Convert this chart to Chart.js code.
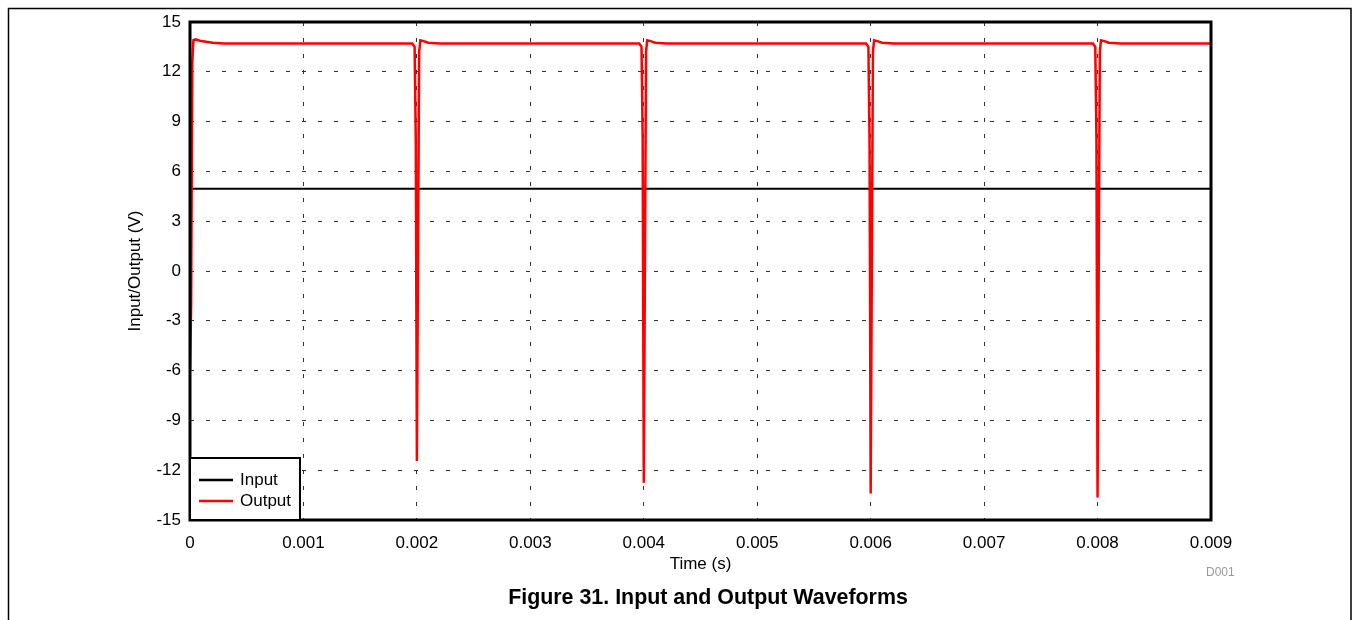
<!DOCTYPE html>
<html>
<head>
<meta charset="utf-8">
<script src="https://cdn.jsdelivr.net/npm/chart.js@4"></script>
<style>
  html, body { margin: 0; padding: 0; background: #fff; overflow: hidden; }
  #wrap { position: relative; width: 1353px; height: 620px; }
</style>
</head>
<body>
<div id="wrap"><canvas id="waveChart"></canvas></div>
<script>
// --- data ---
const inputTime = [0, 0.009];
const inputVolts = [4.95, 4.95];

const outputTime = [
  0, 0.00001, 0.00002, 0.00003, 0.00005, 0.0001, 0.0002, 0.0003,
  0.00196, 0.00198, 0.00199, 0.002, 0.00202, 0.00203, 0.00206, 0.0021, 0.0022,
  0.00396, 0.00398, 0.00399, 0.004, 0.00402, 0.00403, 0.00406, 0.0041, 0.0042,
  0.00596, 0.00598, 0.00599, 0.006, 0.00602, 0.00603, 0.00606, 0.0061, 0.0062,
  0.00796, 0.00798, 0.00799, 0.008, 0.00802, 0.00803, 0.00806, 0.0081, 0.0082,
  0.009
];
const outputVolts = [
  -6, -2, 12.5, 13.9, 13.95, 13.85, 13.75, 13.7,
  13.7, 13.5, 8, -11.45, 13.2, 13.9, 13.85, 13.75, 13.7,
  13.7, 13.5, 8, -12.75, 13.2, 13.9, 13.85, 13.75, 13.7,
  13.7, 13.5, 8, -13.4, 13.2, 13.9, 13.85, 13.75, 13.7,
  13.7, 13.5, 8, -13.65, 13.2, 13.9, 13.85, 13.75, 13.7,
  13.7
];

const yTickMin = -15, yTickMax = 15, yTickStep = 3;
const xTickMin = 0, xTickMax = 0.009, xTickStep = 0.001;

const seriesNames = ['Input', 'Output'];
const seriesColors = ['#000000', '#ff0000'];

const toPoints = (xs, ys) => xs.map((x, i) => ({ x: x, y: ys[i] }));

// frame, plot border, legend box and captions
const decorations = {
  id: 'decorations',
  afterDraw(chart) {
    const { ctx, chartArea: a } = chart;
    ctx.save();
    // outer page frame
    ctx.strokeStyle = '#000';
    ctx.lineWidth = 1.5;
    ctx.beginPath();
    ctx.moveTo(8.5, 630);
    ctx.lineTo(8.5, 8.5);
    ctx.lineTo(1351, 8.5);
    ctx.lineTo(1351, 630);
    ctx.stroke();

    // plot border
    ctx.lineWidth = 3;
    ctx.strokeRect(a.left, a.top, a.right - a.left, a.bottom - a.top);

    // legend
    const lx = a.left, ly = a.bottom - 62, lw = 110, lh = 62;
    ctx.fillStyle = '#fff';
    ctx.fillRect(lx, ly, lw, lh);
    ctx.lineWidth = 2;
    ctx.strokeRect(lx, ly, lw, lh);
    ctx.font = '17px "Liberation Sans", Arial, sans-serif';
    ctx.textBaseline = 'middle';
    ctx.textAlign = 'left';
    seriesNames.forEach((name, i) => {
      const yy = ly + 22 + i * 21;
      ctx.strokeStyle = seriesColors[i];
      ctx.lineWidth = 2.5;
      ctx.beginPath();
      ctx.moveTo(lx + 9, yy);
      ctx.lineTo(lx + 43, yy);
      ctx.stroke();
      ctx.fillStyle = '#000';
      ctx.fillText(name, lx + 50, yy);
    });

    // figure id and caption
    ctx.fillStyle = '#999';
    ctx.font = '12px "Liberation Sans", Arial, sans-serif';
    ctx.fillText('D001', 1206, 573);
    ctx.fillStyle = '#000';
    ctx.font = 'bold 21.4px "Liberation Sans", Arial, sans-serif';
    ctx.textAlign = 'center';
    ctx.fillText('Figure 31. Input and Output Waveforms', 708, 598);
    ctx.restore();
  }
};

const tickFont = { family: '"Liberation Sans", Arial, sans-serif', size: 17 };

new Chart(document.getElementById('waveChart').getContext('2d'), {
  type: 'scatter',
  data: {
    datasets: [{
      label: seriesNames[0],
      data: toPoints(inputTime, inputVolts),
      showLine: true,
      borderColor: seriesColors[0],
      borderWidth: 2,
      pointRadius: 0,
      order: 1
    }, {
      label: seriesNames[1],
      data: toPoints(outputTime, outputVolts),
      showLine: true,
      borderColor: seriesColors[1],
      borderWidth: 2.5,
      pointRadius: 0,
      tension: 0,
      order: 0
    }]
  },
  options: {
    responsive: true,
    maintainAspectRatio: false,
    animation: false,
    devicePixelRatio: 1,
    layout: { padding: { left: 120, right: 142, top: 22, bottom: 46 } },
    plugins: {
      legend: { display: false },
      tooltip: { enabled: false }
    },
    scales: {
      x: {
        type: 'linear',
        min: xTickMin,
        max: xTickMax,
        afterFit: (s) => { s.height = 54; },
        ticks: {
          stepSize: xTickStep,
          color: '#000',
          font: tickFont,
          padding: 13,
          maxRotation: 0,
          callback: (v) => (v === 0 ? '0' : Number(v).toFixed(3))
        },
        grid: { color: '#333', lineWidth: 1, drawTicks: false },
        border: { display: false, dash: [4, 12] },
        title: {
          display: true,
          text: 'Time (s)',
          color: '#000',
          font: tickFont,
          padding: { top: 0, bottom: -1 }
        }
      },
      y: {
        min: yTickMin,
        max: yTickMax,
        afterFit: (s) => { s.width = 70; },
        ticks: {
          stepSize: yTickStep,
          color: '#000',
          font: tickFont,
          padding: 9
        },
        grid: { color: '#333', lineWidth: 1, drawTicks: false },
        border: { display: false, dash: [4, 12] },
        title: {
          display: true,
          text: 'Input/Output (V)',
          color: '#000',
          font: tickFont,
          padding: { top: 5, bottom: 0 }
        }
      }
    }
  },
  plugins: [decorations]
});
</script>
</body>
</html>
